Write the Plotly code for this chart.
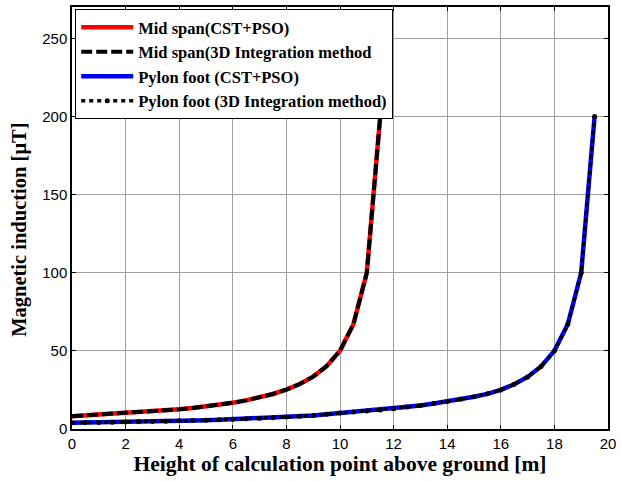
import plotly.graph_objects as go

# Height of the calculation point above ground [m]
height_mid = [0, 0.5, 1, 1.5, 2, 2.5, 3, 3.5, 4, 4.5, 5, 5.5, 6, 6.5, 7, 7.5,
              8, 8.5, 9, 9.5, 10, 10.5, 11, 11.5]
height_pylon = [0, 0.5, 1, 1.5, 2, 2.5, 3, 3.5, 4, 4.5, 5, 5.5, 6, 6.5, 7, 7.5,
                8, 8.5, 9, 9.5, 10, 10.5, 11, 11.5, 12, 12.5, 13, 13.5, 14, 14.5,
                15, 15.5, 16, 16.5, 17, 17.5, 18, 18.5, 19, 19.5]

# Magnetic induction [uT] at mid span
mid_cst_pso = [8.2, 8.7, 9.1, 9.6, 10.1, 10.6, 11.2, 11.9, 12.6, 13.4, 14.4, 15.5,
               16.8, 18.3, 20.1, 22.4, 25.2, 28.8, 33.5, 40.2, 50.0, 67.0, 100.0, 200.0]
mid_3d = [8.2, 8.7, 9.1, 9.6, 10.1, 10.6, 11.2, 11.9, 12.6, 13.4, 14.4, 15.5,
          16.8, 18.3, 20.1, 22.4, 25.2, 28.8, 33.5, 40.2, 50.0, 67.0, 100.0, 200.0]

# Magnetic induction [uT] at the pylon foot
pylon_cst_pso = [4.0, 4.1, 4.2, 4.3, 4.4, 4.6, 4.8, 5.0, 5.2, 5.4, 5.6, 5.9, 6.2, 6.5,
                 6.8, 7.2, 7.6, 8.1, 8.7, 9.4, 10.2, 10.8, 11.5, 12.2, 13.0, 14.0,
                 15.1, 16.3, 17.6, 19.0, 20.6, 22.5, 25.0, 28.6, 33.3, 40.0, 50.0,
                 67.0, 100.0, 200.0]
pylon_3d = [4.0, 4.1, 4.2, 4.3, 4.4, 4.6, 4.8, 5.0, 5.2, 5.4, 5.6, 5.9, 6.2, 6.5,
            6.8, 7.2, 7.6, 8.1, 8.7, 9.4, 10.2, 10.8, 11.5, 12.2, 13.0, 14.0,
            15.1, 16.3, 17.6, 19.0, 20.6, 22.5, 25.0, 28.6, 33.3, 40.0, 50.0,
            67.0, 100.0, 200.0]

x_ticks = list(range(0, 21, 2))
y_ticks = [0, 50, 100, 150, 200, 250]

serif = "Liberation Serif, Times New Roman, serif"
sans = "Liberation Sans, Arial, sans-serif"

fig = go.Figure()
fig.add_trace(go.Scatter(x=height_mid, y=mid_cst_pso, mode="lines",
                         name="<b>Mid span(CST+PSO)</b>",
                         line=dict(color="#ff0000", width=4.5)))
fig.add_trace(go.Scatter(x=height_mid, y=mid_3d, mode="lines",
                         name="<b>Mid span(3D Integration method</b>",
                         line=dict(color="#000000", width=4, dash="11px,4px")))
fig.add_trace(go.Scatter(x=height_pylon, y=pylon_cst_pso, mode="lines",
                         name="<b>Pylon foot (CST+PSO)</b>",
                         line=dict(color="#0000ff", width=4.5)))
fig.add_trace(go.Scatter(x=height_pylon, y=pylon_3d, mode="lines+markers",
                         name="<b>Pylon foot (3D Integration method)</b>",
                         line=dict(color="#000000", width=3.5, dash="4px,4px"),
                         marker=dict(color="#000000", size=5, symbol="circle")))

fig.update_layout(
    width=621, height=481,
    margin=dict(l=72, r=9, t=5, b=52),
    paper_bgcolor="white", plot_bgcolor="white",
    showlegend=True,
    legend=dict(
        x=0.006, y=0.995, xanchor="left", yanchor="top",
        bgcolor="white", bordercolor="black", borderwidth=1,
        font=dict(family=serif, size=16.5, color="black"),
        tracegroupgap=0, itemwidth=52,
    ),
    annotations=[dict(
        text="<b>Magnetic induction [μT]</b>", textangle=-90,
        xref="paper", yref="paper", x=-0.097, y=0.472,
        xanchor="center", yanchor="middle", showarrow=False,
        font=dict(family=serif, size=20.5, color="black"),
    )],
)
fig.update_xaxes(
    range=[0, 20], tickvals=x_ticks, ticktext=[str(v) for v in x_ticks],
    showgrid=True, gridcolor="#a0a0a0", gridwidth=1,
    showline=True, linecolor="black", linewidth=1.5, mirror="ticks",
    ticks="inside", ticklen=4, tickcolor="black",
    tickfont=dict(family=sans, size=15, color="black"),
    zeroline=False,
    title=dict(text="<b>Height of calculation point above ground [m]</b>",
               font=dict(family=serif, size=21.5, color="black"), standoff=3),
)
fig.update_yaxes(
    range=[0, 270], tickvals=y_ticks, ticktext=[str(v) for v in y_ticks],
    showgrid=True, gridcolor="#a0a0a0", gridwidth=1,
    showline=True, linecolor="black", linewidth=1.5, mirror="ticks",
    ticks="inside", ticklen=4, tickcolor="black",
    tickfont=dict(family=sans, size=15, color="black"),
    zeroline=False,
)

fig.write_html("out.html")
